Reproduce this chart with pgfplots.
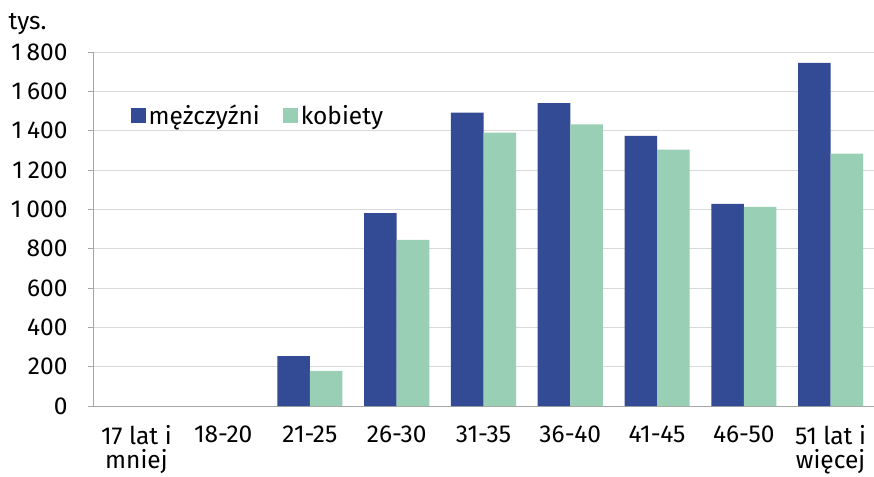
\documentclass[border=0pt]{standalone}
\usepackage{pgfplots}
\pgfplotsset{compat=1.18}
\usepackage{fontspec}
\setmainfont{Fira Sans}
\definecolor{men}{HTML}{334A94}
\definecolor{women}{HTML}{99CFB4}
\definecolor{gridc}{HTML}{D9D9D9}
\definecolor{axc}{HTML}{A6A6A6}
\newcommand{\f}{\fontsize{24.5pt}{24pt}\selectfont}
\begin{document}
\begin{tikzpicture}
\useasboundingbox (-93pt,-70pt) rectangle (781pt,406pt);
\begin{axis}[
  at={(0,0)}, anchor=south west,
  scale only axis, width=781pt, height=354pt,
  ybar=0pt, bar width=0.375,
  xmin=-0.5, xmax=8.5, ymin=0, ymax=1800,
  xtick={0,...,8},
  xticklabels={{17 lat i\\mniej},18-20,21-25,26-30,31-35,36-40,41-45,46-50,{51 lat i\\więcej}},
  x tick label style={align=center, font=\f, yshift=-11pt},
  major x tick style={draw=none},
  extra x ticks={-0.5,1.5,3.5,5.5,7.5},
  extra x tick labels={},
  extra x tick style={major tick length=6pt, tick style={draw=axc, line width=0.8pt}, grid=none},
  ytick={0,200,...,1800},
  y tick label style={font=\f, xshift=-17pt, anchor=east},
  /pgf/number format/.cd, assume math mode=true, 1000 sep={\hspace{0.2em}}, /pgfplots/.cd,
  ymajorgrids, grid style={gridc, line width=0.8pt},
  axis x line=bottom, axis y line=left,
  axis line style={-, draw=axc, line width=0.8pt},
  tick align=outside, major tick length=5pt,
  ytick style={draw=axc, line width=0.8pt},
  legend style={draw=none, fill=none, at={(0.048,0.82)}, anchor=west, legend columns=2,
    font=\f, column sep=2pt, inner sep=0pt, nodes={inner sep=1pt},
    /tikz/every even column/.append style={column sep=22pt}},
  legend image code/.code={\fill[#1] (0pt,-7pt) rectangle (15pt,8pt);},
  clip=false,
]
\addplot[fill=men, draw=none] coordinates {(2,254) (3,981) (4,1492) (5,1540) (6,1374) (7,1028) (8,1745)};
\addplot[fill=women, draw=none] coordinates {(2,178) (3,845) (4,1390) (5,1432) (6,1303) (7,1012) (8,1283)};
\legend{mężczyźni, kobiety}
\node[anchor=base east, font=\f] at ([xshift=-43pt, yshift=22pt]rel axis cs:0,1) {tys.};
\end{axis}
\end{tikzpicture}
\end{document}
